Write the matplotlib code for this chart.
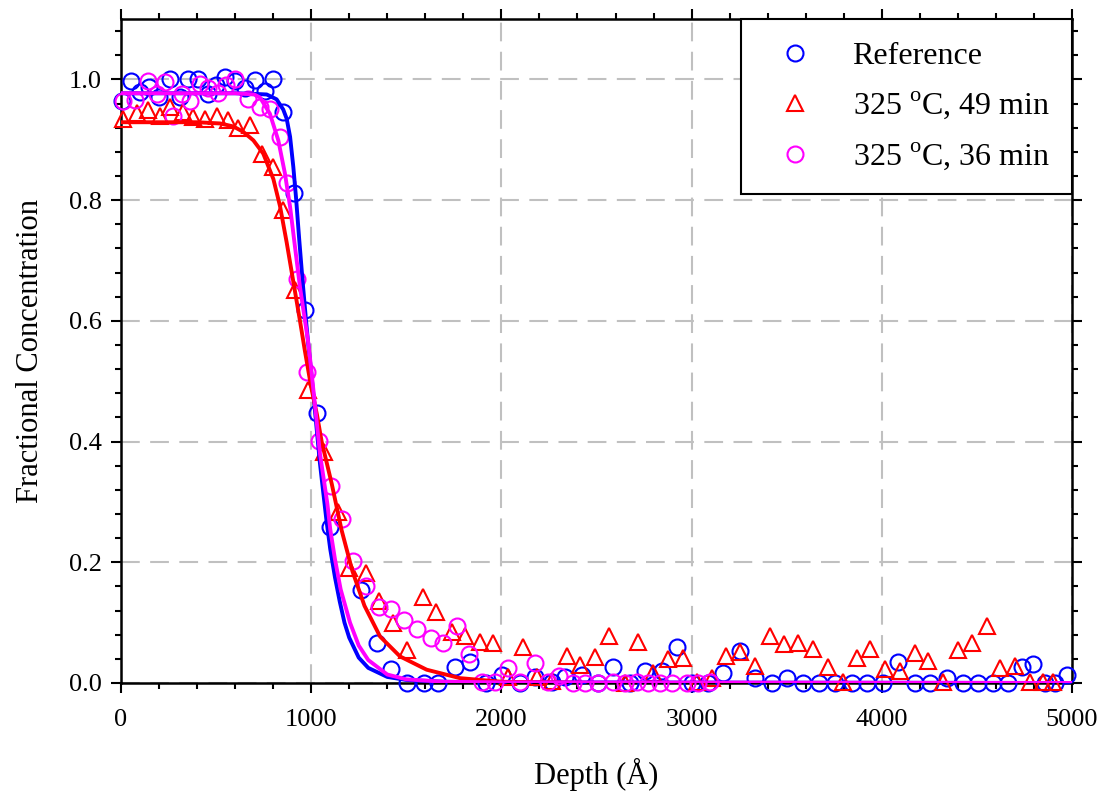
# Depth profile of fractional concentration with fitted curves

# Modules
import numpy as np
import matplotlib
matplotlib.use('Agg')
import matplotlib.pyplot as plt
from matplotlib.ticker import MultipleLocator

# Measured data: reference sample (blue circles)
ref_depth = [4, 51, 100, 149, 201, 258, 310, 354, 406, 455, 500, 547, 599, 650, 704, 755,
             801, 853, 910, 967, 1032, 1101, 1260, 1344, 1418, 1505, 1593, 1668,
             1756, 1835, 1918, 2005, 2098, 2177, 2264, 2334, 2422, 2510, 2589, 2676, 2755,
             2843, 2922, 3000, 3088, 3167, 3254, 3333, 3421, 3503, 3587, 3671, 3754, 3841,
             3921, 4008, 4087, 4175, 4253, 4341, 4429, 4507, 4586, 4665, 4735, 4797, 4858,
             4911, 4972]
ref_conc = [0.965, 0.997, 0.979, 0.987, 0.971, 1.001, 0.971, 1.001, 1.001, 0.975, 0.990,
            1.004, 0.998, 0.985, 0.999, 0.980, 1.001, 0.946, 0.812, 0.618, 0.447, 0.259,
            0.154, 0.066, 0.023, 0.0, 0.0, 0.0, 0.026, 0.035, 0.0, 0.013, 0.0, 0.010,
            0.002, 0.010, 0.013, 0.0, 0.027, 0.0, 0.019, 0.019, 0.059, 0.0, 0.0, 0.016,
            0.053, 0.008, 0.0, 0.008, 0.0, 0.0, 0.0, 0.0, 0.0, 0.0, 0.034, 0.0, 0.0, 0.008,
            0.0, 0.0, 0.0, 0.0, 0.026, 0.031, 0.0, 0.0, 0.013]

# Measured data: 325 C, 49 min (red triangles)
t49_depth = [10, 83, 144, 205, 258, 328, 380, 442, 503, 564, 617, 678, 740, 801, 853, 915,
             985, 1068, 1140, 1200, 1290, 1358, 1432, 1505, 1586, 1656, 1738, 1809, 1888,
             1957, 2036, 2112, 2185, 2264, 2343, 2413, 2492, 2567, 2650, 2720, 2799, 2878,
             2953, 3027, 3106, 3181, 3254, 3333, 3412, 3486, 3561, 3640, 3719, 3794, 3868,
             3938, 4017, 4096, 4175, 4245, 4323, 4402, 4473, 4551, 4621, 4700, 4779, 4849,
             4902]
t49_conc = [0.935, 0.944, 0.949, 0.940, 0.954, 0.946, 0.938, 0.935, 0.940, 0.932, 0.920,
            0.924, 0.877, 0.855, 0.783, 0.651, 0.485, 0.382, 0.284, 0.190, 0.183, 0.135,
            0.099, 0.055, 0.143, 0.118, 0.085, 0.077, 0.068, 0.066, 0.010, 0.060, 0.010,
            0.004, 0.044, 0.030, 0.043, 0.077, 0.0, 0.068, 0.016, 0.039, 0.041, 0.002,
            0.009, 0.044, 0.052, 0.028, 0.077, 0.065, 0.066, 0.057, 0.026, 0.002, 0.041,
            0.057, 0.023, 0.019, 0.049, 0.037, 0.002, 0.055, 0.067, 0.094, 0.024, 0.028,
            0.002, 0.002, 0.002]

# Measured data: 325 C, 36 min (magenta circles)
t36_depth = [12, 74, 144, 187, 231, 275, 320, 363, 415, 459, 510, 550, 599, 669, 731, 783,
             836, 875, 924, 980, 1040, 1104, 1162, 1221, 1287, 1358, 1418, 1488, 1558,
             1628, 1695, 1765, 1831, 1896, 1966, 2036, 2098, 2177, 2247, 2305, 2378, 2440,
             2510, 2589, 2650, 2711, 2772, 2834, 2895, 2974, 3035, 3097]
t36_conc = [0.965, 0.966, 0.998, 0.976, 0.996, 0.940, 0.975, 0.965, 0.993, 0.985, 0.978,
            0.990, 1.001, 0.968, 0.954, 0.951, 0.905, 0.829, 0.670, 0.516, 0.401, 0.327,
            0.271, 0.202, 0.161, 0.126, 0.122, 0.104, 0.089, 0.074, 0.067, 0.094, 0.048,
            0.002, 0.002, 0.024, 0.002, 0.033, 0.002, 0.012, 0.0, 0.0, 0.0, 0.002, 0.0,
            0.002, 0.0, 0.0, 0.0, 0.0, 0.0, 0.002]

# Fitted curves
ref_fit_x = [0, 600, 700, 766, 818, 853, 871, 889, 906, 920, 937, 955, 973, 985, 1000, 1020,
             1046, 1060, 1080, 1100, 1125, 1150, 1175, 1200, 1250, 1300, 1400, 1500, 1700,
             2000, 5000]
ref_fit_y = [0.977, 0.977, 0.976, 0.975, 0.967, 0.950, 0.935, 0.905, 0.855, 0.805, 0.735,
             0.665, 0.600, 0.560, 0.515, 0.450, 0.364, 0.325, 0.270, 0.222, 0.175, 0.135,
             0.100, 0.075, 0.042, 0.025, 0.010, 0.005, 0.002, 0.001, 0.0]

t49_fit_x = [0, 400, 521, 591, 643, 696, 748, 801, 836, 871, 906, 941, 967, 1000, 1030, 1055,
             1108, 1160, 1217, 1280, 1362, 1467, 1607, 1782, 2000, 2500, 5000]
t49_fit_y = [0.929, 0.929, 0.927, 0.922, 0.913, 0.899, 0.877, 0.835, 0.790, 0.730, 0.665,
             0.600, 0.550, 0.490, 0.445, 0.400, 0.330, 0.253, 0.185, 0.128, 0.077, 0.044,
             0.022, 0.008, 0.002, 0.0, 0.0]

t36_fit_x = [0, 600, 700, 731, 783, 827, 862, 889, 915, 941, 967, 985, 1000, 1020, 1046, 1085,
             1100, 1125, 1155, 1204, 1250, 1300, 1400, 1500, 1700, 2000, 5000]
t36_fit_y = [0.977, 0.977, 0.975, 0.970, 0.943, 0.899, 0.844, 0.789, 0.722, 0.656, 0.601,
             0.563, 0.520, 0.460, 0.380, 0.297, 0.255, 0.205, 0.155, 0.100, 0.062, 0.038,
             0.014, 0.006, 0.002, 0.001, 0.0]

# Labels
leg_labels = ['Reference', r'325 $^\mathregular{o}$C, 49 min', r'325 $^\mathregular{o}$C, 36 min']

# Fonts
plt.rcParams['font.family'] = ['Liberation Serif', 'DejaVu Serif']
plt.rcParams['mathtext.fontset'] = 'custom'
plt.rcParams['mathtext.rm'] = 'Liberation Serif'

# Creating the figure and axis
fig = plt.figure(figsize=(11.04, 7.96), dpi=100)
axs = fig.add_axes([0.1096, 0.1420, 0.8614, 0.8341])

# Markers
ms = 11.5
mew = 1.5
axs.plot(ref_depth, ref_conc, linestyle='none', marker='o', ms=ms, mew=mew,
         mfc='none', mec='#0000ff', clip_on=False, label=leg_labels[0], zorder=3)
axs.plot(t49_depth, t49_conc, linestyle='none', marker='^', ms=ms, mew=mew,
         mfc='none', mec='#ff0000', clip_on=False, label=leg_labels[1], zorder=3)
axs.plot(t36_depth, t36_conc, linestyle='none', marker='o', ms=ms, mew=mew,
         mfc='none', mec='#ff00ff', clip_on=False, label=leg_labels[2], zorder=3)

# Fitted lines
axs.plot(ref_fit_x, ref_fit_y, color='#0000ff', linewidth=2.8, zorder=4)
axs.plot(t49_fit_x, t49_fit_y, color='#ff0000', linewidth=2.8, zorder=4)
axs.plot(t36_fit_x, t36_fit_y, color='#ff00ff', linewidth=2.8, zorder=4)

# Limits and ticks
axs.set_xlim(0, 5000)
axs.set_ylim(0, 1.1)
axs.xaxis.set_major_locator(MultipleLocator(1000))
axs.xaxis.set_minor_locator(MultipleLocator(200))
axs.yaxis.set_major_locator(MultipleLocator(0.2))
axs.yaxis.set_minor_locator(MultipleLocator(0.04))
axs.tick_params(which='both', direction='out', top=True, right=True, width=1.5)
axs.tick_params(which='major', length=7, labelsize=19)
axs.tick_params(axis='x', which='major', pad=12)
axs.tick_params(axis='y', which='major', pad=7)
axs.tick_params(which='minor', length=4.5)
for sp in axs.spines.values():
    sp.set_linewidth(1.8)

# Dashed grid
axs.set_axisbelow(True)
axs.grid(True, which='major', color='#c0c0c0', linestyle=(0, (9, 5)), linewidth=1.5)

# Axis labels
axs.set_xlabel('Depth (Å)', fontsize=22, labelpad=19)
axs.set_ylabel('Fractional Concentration', fontsize=22, labelpad=17)

# Legend
leg = axs.legend(loc='upper right', fontsize=23, numpoints=1, borderaxespad=0,
                 fancybox=False, framealpha=1, edgecolor='black', borderpad=0.7,
                 labelspacing=0.6, handlelength=2.0, handletextpad=0.8)
leg.get_frame().set_linewidth(1.5)
leg.set_zorder(5)

plt.savefig('out.png', dpi=100)
plt.close()
